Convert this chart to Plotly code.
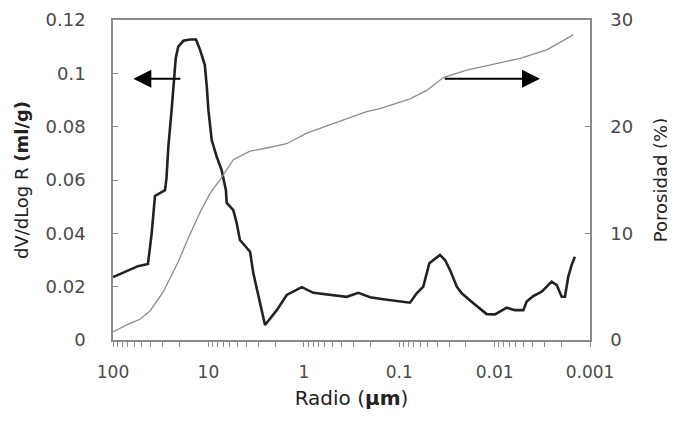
import math
import plotly.graph_objects as go

# Thick black curve: dV/dLog R (ml/g)
radius_dv = [100, 74.9, 54.7, 43.0, 39.3, 36.3, 32.2, 28.5, 27.5, 26.3, 24.3, 23.0, 22.0, 20.7,
             18.3, 15.6, 13.5, 12.2, 10.9, 10.4, 10.0, 9.23, 8.18, 7.26, 6.55, 6.43, 5.48, 5.05,
             4.67, 3.66, 3.38, 2.55, 1.92, 1.51, 1.05, 0.794, 0.491, 0.355, 0.268, 0.202, 0.147,
             0.115, 0.0771, 0.0656, 0.0559, 0.0483, 0.0421, 0.0374, 0.0331, 0.0293, 0.0249,
             0.0221, 0.0167, 0.0121, 0.0099, 0.00746, 0.00611, 0.0050, 0.00461, 0.00393, 0.00321,
             0.00284, 0.00252, 0.00223, 0.00198, 0.00183, 0.00169, 0.00156, 0.00144]
dv_values = [0.0236, 0.0255, 0.0277, 0.0285, 0.0401, 0.054, 0.0551, 0.0562, 0.0607, 0.0724,
             0.0862, 0.0975, 0.1057, 0.110, 0.1122, 0.1127, 0.1127, 0.1087, 0.1031, 0.095,
             0.0862, 0.075, 0.0687, 0.0637, 0.0562, 0.0514, 0.0487, 0.0438, 0.0375, 0.0331,
             0.025, 0.0056, 0.0112, 0.0169, 0.0198, 0.0177, 0.0169, 0.0162, 0.0177, 0.016,
             0.0153, 0.0147, 0.014, 0.0175, 0.020, 0.0288, 0.0303, 0.0319, 0.030, 0.0262, 0.020,
             0.0175, 0.0138, 0.0097, 0.0096, 0.0121, 0.0112, 0.0112, 0.0144, 0.0165, 0.0181,
             0.0202, 0.0219, 0.0206, 0.0162, 0.0162, 0.0237, 0.0281, 0.0312]

# Thin grey curve: Porosidad (%)
radius_por = [100, 71.9, 52.2, 40.9, 29.7, 20.7, 16.3, 12.2, 9.62, 7.56, 5.48, 3.66, 2.45, 1.51,
              0.933, 0.491, 0.219, 0.159, 0.0771, 0.0515, 0.0345, 0.0196, 0.0095, 0.00542,
              0.00284, 0.00206, 0.0015]
por_values = [0.75, 1.41, 1.94, 2.72, 4.53, 7.34, 9.53, 12.0, 13.75, 15.0, 16.9, 17.7, 18.0,
              18.4, 19.4, 20.3, 21.4, 21.7, 22.6, 23.4, 24.6, 25.3, 25.9, 26.4, 27.2, 27.9, 28.6]

# X tick labels (decades) with unlabeled minor ticks
decades = [100, 10, 1, 0.1, 0.01, 0.001]
decade_labels = ["100", "10", "1", "0.1", "0.01", "0.001"]
x_tickvals, x_ticktext = [], []
for d, lab in zip(decades, decade_labels):
    x_tickvals.append(d)
    x_ticktext.append(lab)
    if d > 0.001:
        for m in range(2, 10):
            x_tickvals.append(d / 10 * m)
            x_ticktext.append("")

FONT = "DejaVu Sans, Verdana, sans-serif"
AXC = "#8a8a8a"
TXT = "#4a4a4a"
TTL = "#222222"

fig = go.Figure()
fig.add_trace(go.Scatter(x=radius_por, y=por_values, mode="lines", yaxis="y2",
                         line=dict(color="#8c8c8c", width=1.3), showlegend=False))
fig.add_trace(go.Scatter(x=radius_dv, y=dv_values, mode="lines",
                         line=dict(color="#222222", width=2.6), showlegend=False))

fig.update_layout(
    template="none",
    width=667, height=405,
    margin=dict(l=105, r=85, t=12, b=73, autoexpand=False),
    paper_bgcolor="white", plot_bgcolor="white",
    font=dict(family=FONT, size=18, color=TXT),
    xaxis=dict(type="log", range=[2, -3], tickvals=x_tickvals, ticktext=x_ticktext,
               automargin=False,
               ticks="outside", ticklen=5, tickcolor=AXC, showgrid=False, zeroline=False,
               showline=True, linecolor=AXC, linewidth=1.5, mirror=True,
               tickfont=dict(size=17, color=TXT), ticklabelstandoff=11,
               title=dict(text="Radio (<b>µm</b>)", font=dict(size=20, color=TTL), standoff=10)),
    yaxis=dict(range=[0, 0.12], dtick=0.02, ticks="inside", ticklen=5, tickcolor=AXC,
               automargin=False,
               showgrid=False, zeroline=False, showline=True, linecolor=AXC, linewidth=1.5,
               tickfont=dict(size=18, color=TXT), ticklabelstandoff=22,
               title=dict(text="dV/dLog R <b>(ml/g)</b>", font=dict(size=18, color=TTL), standoff=12)),
    yaxis2=dict(range=[0, 30], dtick=10, overlaying="y", side="right", ticks="inside", ticklen=5,
                automargin=False,
                tickcolor=AXC, showgrid=False, zeroline=False, showline=True, linecolor=AXC,
                linewidth=1.5, tickfont=dict(size=18, color=TXT), ticklabelstandoff=15,
                title=dict(text="Porosidad (%)", font=dict(size=18, color=TTL), standoff=22)),
)

# Arrows pointing to each curve's axis
arrow_y = 0.098
fig.add_annotation(x=math.log10(61.2), y=arrow_y, ax=math.log10(19.0), ay=arrow_y,
                   xref="x", yref="y", axref="x", ayref="y", text="", showarrow=True,
                   arrowhead=2, arrowsize=1.8, arrowwidth=2, arrowcolor="black")
fig.add_annotation(x=math.log10(0.00334), y=arrow_y, ax=math.log10(0.0345), ay=arrow_y,
                   xref="x", yref="y", axref="x", ayref="y", text="", showarrow=True,
                   arrowhead=2, arrowsize=1.8, arrowwidth=2, arrowcolor="black")

fig.write_html("out.html")
